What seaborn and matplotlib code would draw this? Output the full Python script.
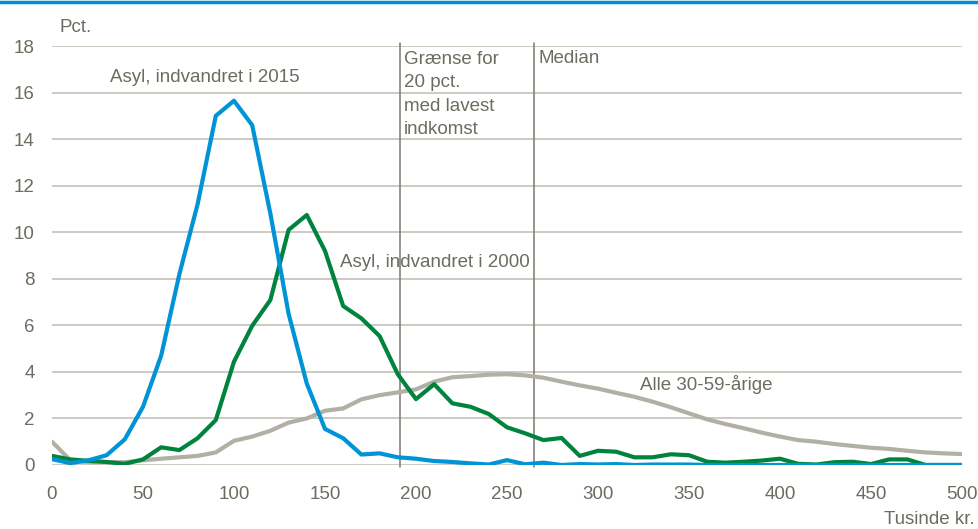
import numpy as np
import pandas as pd
import matplotlib
matplotlib.use("Agg")
import matplotlib.pyplot as plt
import seaborn as sns
from matplotlib.lines import Line2D

# ---- data ----
income = list(range(0, 501, 10))  # Tusinde kr.

asyl_2015 = [0.25, 0.08, 0.2, 0.42, 1.1, 2.5, 4.7, 8.2, 11.2, 15.0,
             15.65, 14.6, 10.8, 6.5, 3.5, 1.55, 1.15, 0.45, 0.5, 0.33,
             0.27, 0.17, 0.13, 0.07, 0.02, 0.21, 0.03, 0.1, 0.0, 0.04,
             0.02, 0.04, 0.0, 0.02, 0.02, 0.02, 0.0, 0.0, 0.0, 0.0,
             0.0, 0.0, 0.0, 0.0, 0.0, 0.0, 0.0, 0.0, 0.0, 0.0, 0.0]

asyl_2000 = [0.39, 0.24, 0.18, 0.13, 0.05, 0.24, 0.76, 0.64, 1.15, 1.93,
             4.44, 5.98, 7.09, 10.1, 10.74, 9.2, 6.83, 6.3, 5.54, 3.9,
             2.83, 3.47, 2.65, 2.5, 2.19, 1.62, 1.36, 1.07, 1.16, 0.39,
             0.61, 0.57, 0.33, 0.33, 0.46, 0.42, 0.14, 0.1, 0.14, 0.19,
             0.27, 0.05, 0.02, 0.12, 0.14, 0.04, 0.24, 0.24, 0.0, 0.0, 0.0]

alle_30_59 = [1.0, 0.21, 0.12, 0.12, 0.12, 0.2, 0.27, 0.33, 0.39, 0.54,
              1.04, 1.22, 1.47, 1.82, 2.0, 2.33, 2.43, 2.82, 3.0, 3.12,
              3.25, 3.58, 3.77, 3.82, 3.88, 3.9, 3.85, 3.75, 3.58, 3.42,
              3.28, 3.1, 2.93, 2.72, 2.48, 2.22, 1.96, 1.76, 1.58, 1.39,
              1.22, 1.07, 1.0, 0.9, 0.82, 0.74, 0.69, 0.61, 0.54, 0.5, 0.47]

series_names = ["Asyl, indvandret i 2015", "Asyl, indvandret i 2000", "Alle 30-59-årige"]
series_colors = ["#0093d6", "#00843d", "#b2b0a4"]

grænse = 191   # Grænse for 20 pct. med lavest indkomst
median = 265   # Median

y_ticks = [0, 2, 4, 6, 8, 10, 12, 14, 16, 18]
x_ticks = [0, 50, 100, 150, 200, 250, 300, 350, 400, 450, 500]

# ---- build table ----
df = pd.concat([
    pd.DataFrame({"income": income, "pct": vals, "serie": name})
    for name, vals in zip(series_names, [asyl_2015, asyl_2000, alle_30_59])
], ignore_index=True)

sns.set_theme(style="white")
plt.rcParams['font.family'] = ['Liberation Sans Narrow', 'Liberation Sans', 'DejaVu Sans']
text_col = "#6e6b60"

fig = plt.figure(figsize=(9.79, 5.29), dpi=100)
ax = fig.add_axes([0.0531, 0.121, 0.9295, 0.792])

order = ["Alle 30-59-årige", "Asyl, indvandret i 2000", "Asyl, indvandret i 2015"]
pal = dict(zip(series_names, series_colors))
sns.lineplot(data=df, x="income", y="pct", hue="serie", hue_order=order,
             palette=pal, linewidth=3.0, ax=ax, legend=False, zorder=3)

ax.set_xlim(0, 500)
ax.set_ylim(0, 18)
ax.set_xticks(x_ticks)
ax.set_yticks(y_ticks)
ax.set_xlabel("")
ax.set_ylabel("")
for s in ax.spines.values():
    s.set_visible(False)
ax.grid(axis="y", color="#c9c6bd", linewidth=1.3, zorder=0)
ax.grid(axis="x", visible=False)
ax.tick_params(axis="both", length=0, labelsize=13.5, colors=text_col)
ax.tick_params(axis="y", pad=12.5)
ax.tick_params(axis="x", pad=15)

# vertical reference lines
for xv in (grænse, median):
    ax.axvline(xv, ymin=-0.005, ymax=1.008, color="#7b786d", linewidth=1.1,
               clip_on=False, zorder=2)

fs = 13.5
ax.text(32, 16.65, "Asyl, indvandret i 2015", fontsize=fs, color=text_col, va="center", ha="left")
ax.text(158, 8.72, "Asyl, indvandret i 2000", fontsize=fs, color=text_col, va="center", ha="left")
ax.text(323, 3.45, "Alle 30-59-årige", fontsize=fs, color=text_col, va="center", ha="left")
ax.text(grænse + 2.5, 17.8, "Grænse for\n20 pct.\nmed lavest\nindkomst", fontsize=fs,
        color=text_col, va="top", ha="left", linespacing=1.5)
ax.text(median + 2.5, 17.45, "Median", fontsize=fs, color=text_col, va="center", ha="left")

fig.text(60 / 979, 1 - 28 / 529, "Pct.", fontsize=fs, color=text_col, va="center", ha="left")
fig.text(975 / 979, 1 - 519 / 529, "Tusinde kr.", fontsize=fs, color=text_col, va="center", ha="right")

# top blue rule
fig.add_artist(Line2D([0, 1], [0.997, 0.997], transform=fig.transFigure,
                      color="#0090d4", linewidth=2.5))

fig.savefig("out.png", dpi=100)
